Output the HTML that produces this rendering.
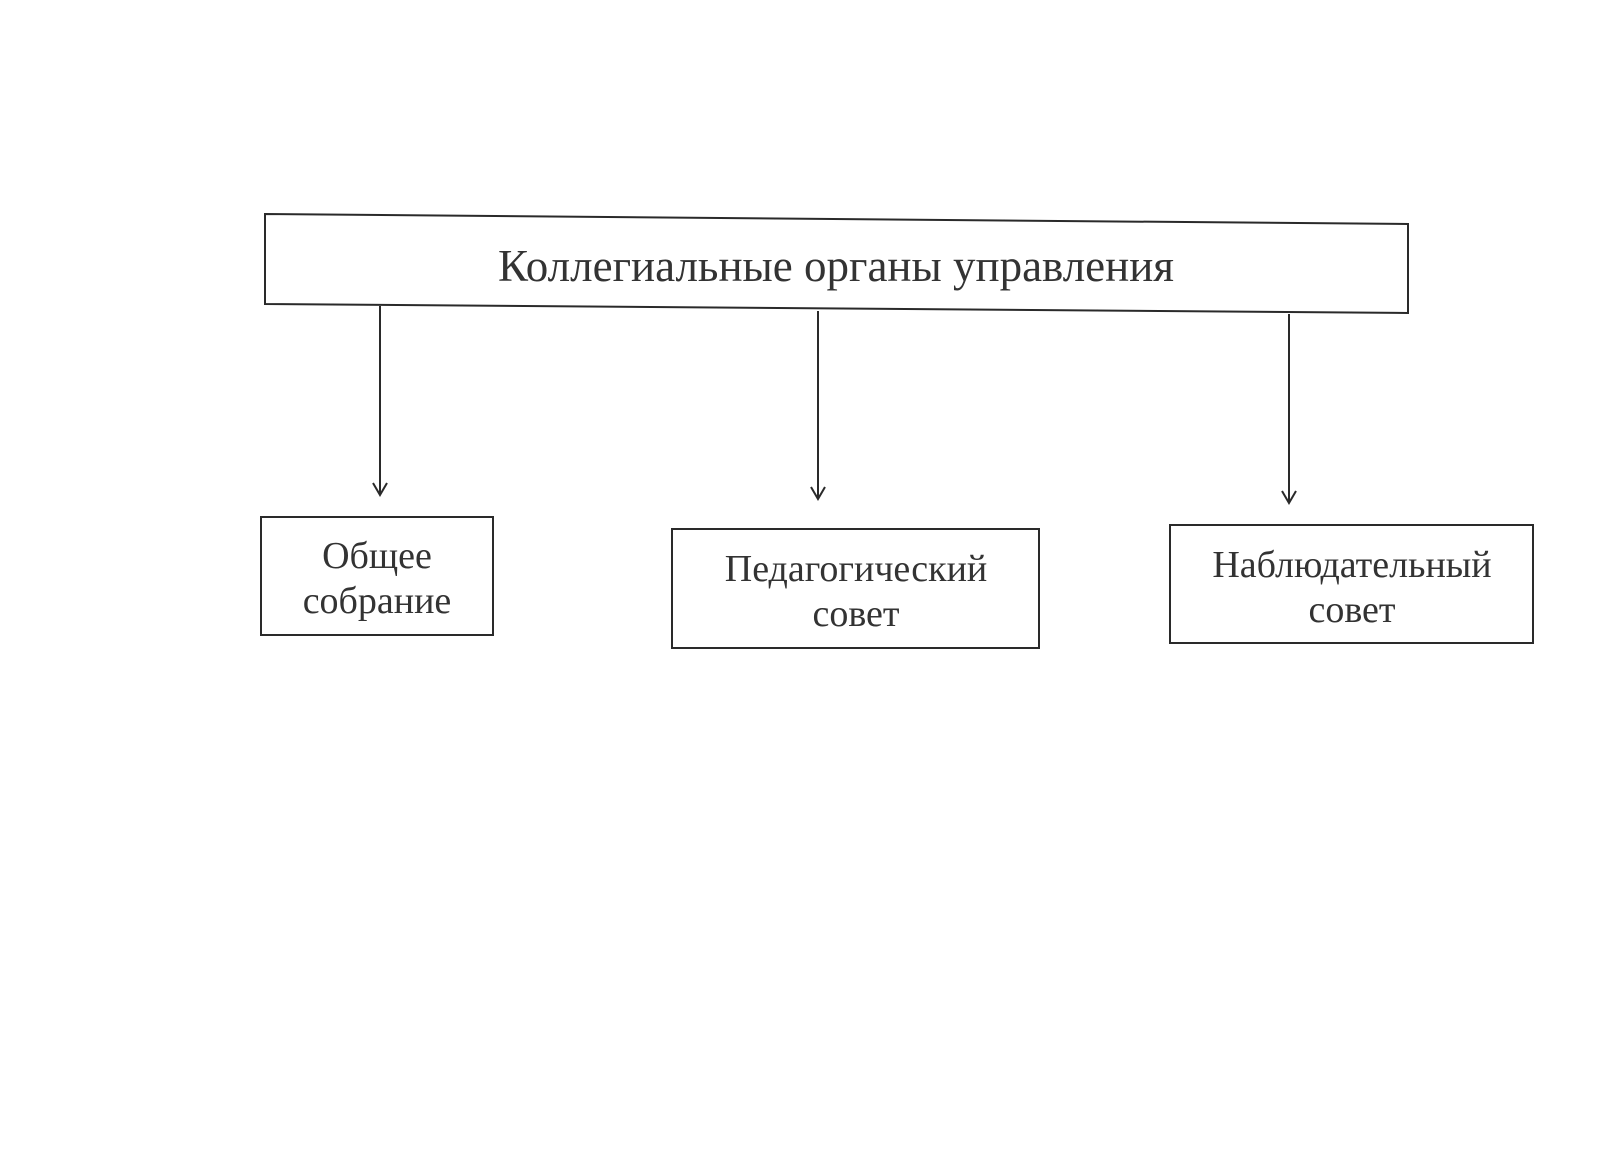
<!DOCTYPE html>
<html><head><meta charset="utf-8"><style>
body{margin:0;background:#fff;}
</style></head><body>
<svg width="1600" height="1163" xmlns="http://www.w3.org/2000/svg" style="display:block">
<g fill="none" stroke="#2a2a2a" stroke-width="2">
<polygon points="265,214 1408,224 1408,313 265,304"/>
<rect x="261" y="517" width="232" height="118"/>
<rect x="672" y="529" width="367" height="119"/>
<rect x="1170" y="525" width="363" height="118"/>
<line x1="380" y1="306" x2="380" y2="494"/>
<line x1="818" y1="311" x2="818" y2="498"/>
<line x1="1289" y1="314" x2="1289" y2="502"/>
<polyline points="373,483 380,495 387,483"/>
<polyline points="811,487 818,499 825,487"/>
<polyline points="1282,491 1289,503 1296,491"/>
</g>
<g font-family="'Liberation Serif','Noto Serif CJK SC',serif" fill="#333" text-anchor="middle">
<text x="836" y="281" font-size="45">Коллегиальные органы управления</text>
<text x="377" y="568" font-size="38">Общее</text>
<text x="377" y="613" font-size="38">собрание</text>
<text x="856" y="581" font-size="38">Педагогический</text>
<text x="856" y="626" font-size="38">совет</text>
<text x="1352" y="577" font-size="38">Наблюдательный</text>
<text x="1352" y="622" font-size="38">совет</text>
</g>
</svg>
</body></html>
